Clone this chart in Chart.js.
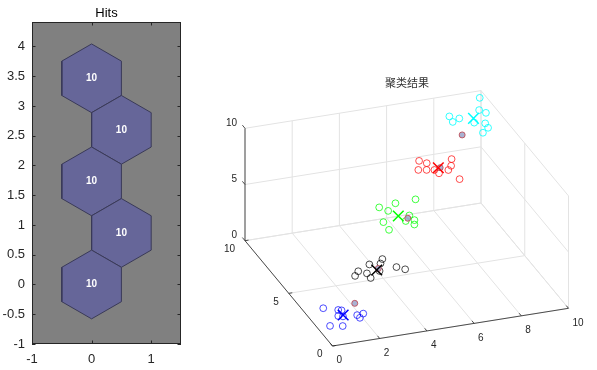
<!DOCTYPE html>
<html>
<head>
<meta charset="utf-8">
<script src="https://cdn.jsdelivr.net/npm/chart.js@4.4.1/dist/chart.umd.min.js"></script>
<style>
  html, body { margin: 0; padding: 0; background: #fff; }
  #wrap { position: relative; width: 597px; height: 370px; }
  canvas { position: absolute; top: 0; }
  #hitsChart { left: 0; }
  #clusterChart { left: 200px; }
</style>
</head>
<body>
<div id="wrap">
  <canvas id="hitsChart" width="200" height="370"></canvas>
  <canvas id="clusterChart" width="397" height="370"></canvas>
</div>
<script>
// Left panel: SOM hits (neuron centres and hit counts)
const hexX = [0, 0.5, 0, 0.5, 0];
const hexY = [0, 0.866, 1.732, 2.598, 3.464];
const hexHits = [10, 10, 10, 10, 10];
const hitsXTicks = [-1, 0, 1];
const hitsYTicks = [-1, -0.5, 0, 0.5, 1, 1.5, 2, 2.5, 3, 3.5, 4];

// Right panel: clustered samples (x, y, z per cluster)
const blueX = [0.29, 0.82, 0.94, 0.73, 0.27, 0.74, 1.45, 1.70, 1.51, 0.90];
const blueY = [1.84, 1.56, 1.50, 1.31, 1.01, 0.83, 1.09, 1.07, 0.94, 1.23];
const blueZ = [1.54, 1.47, 1.45, 1.20, 0.75, 0.75, 1.24, 1.31, 1.12, 1.18];
const blackX = [3.36, 3.22, 2.79, 2.27, 2.08, 2.56, 2.63, 3.76, 4.05, 3.07];
const blackY = [3.36, 3.20, 3.31, 3.18, 3.03, 2.97, 2.73, 2.83, 2.62, 2.90];
const blackZ = [3.46, 3.26, 3.22, 2.91, 2.70, 2.82, 2.61, 3.11, 3.01, 2.93];
const greenX = [4.14, 4.42, 4.81, 5.62, 5.14, 5.26, 5.19, 4.92, 4.07, 4.16];
const greenY = [5.83, 5.56, 5.78, 5.67, 5.08, 4.82, 4.64, 4.90, 5.16, 4.76];
const greenZ = [5.48, 5.33, 5.67, 5.85, 5.13, 4.92, 4.72, 4.88, 4.82, 4.48];
const redX = [6.45, 6.70, 6.28, 6.59, 6.88, 7.00, 7.69, 7.57, 7.40, 7.68];
const redY = [7.50, 7.30, 7.13, 7.02, 6.91, 6.71, 7.13, 6.86, 6.72, 6.19];
const redZ = [7.28, 7.18, 6.88, 6.88, 6.88, 6.73, 7.37, 7.07, 6.88, 6.47];
const cyanX = [9.79, 9.58, 9.79, 8.37, 8.41, 8.71, 9.60, 9.64, 9.37, 9.20];
const cyanY = [9.58, 9.08, 8.87, 9.22, 8.94, 9.00, 8.44, 8.22, 8.08, 8.62];
const cyanZ = [9.82, 9.27, 9.15, 8.98, 8.74, 8.89, 8.68, 8.48, 8.26, 8.71];

// cluster centres (X markers) and SOM weight vectors
const centreX = [0.93, 2.98, 4.72, 7.06, 9.24];
const centreY = [1.29, 2.98, 5.21, 6.95, 8.81];
const centreZ = [1.24, 2.97, 5.10, 6.98, 8.90];
const neuronX = [1.54, 3.06, 5.04, 7.13, 8.56];
const neuronY = [1.61, 3.02, 4.99, 6.93, 8.27];
const neuronZ = [1.77, 3.04, 5.00, 6.98, 8.16];

const axXTicks = [0, 2, 4, 6, 8, 10];
const axYTicks = [0, 5, 10];
const axZTicks = [0, 5, 10];

const clusterColors = ["rgba(0,0,255,0.7)", "rgba(0,0,0,0.7)", "rgba(0,255,0,0.75)", "rgba(255,0,0,0.7)", "rgba(0,255,255,0.8)"];
const centreColors = ["#0000ff", "#000000", "#00ff00", "#ff0000", "#00ffff"];
const AX = "#262626";
const SANS = '"Liberation Sans", Arial, sans-serif';

// ---------- left chart ----------
const hexR = 1 / Math.sqrt(3);
const hexDatasets = hexX.map((cx, i) => {
    const pts = [];
    for (let k = 0; k <= 6; k++) {
        const a = Math.PI / 2 + k * Math.PI / 3;
        pts.push({ x: cx + hexR * Math.cos(a), y: hexY[i] + hexR * Math.sin(a) });
    }
    return {
        data: pts,
        showLine: true,
        fill: "shape",
        backgroundColor: "#666699",
        borderColor: "#3a3a58",
        borderWidth: 1,
        pointRadius: 0,
        tension: 0
    };
});

const hitsPlugin = {
    id: "hitsDecor",
    beforeDatasetsDraw(chart) {
        const { ctx, chartArea: a } = chart;
        ctx.save();
        ctx.fillStyle = "#808080";
        ctx.fillRect(a.left, a.top, a.right - a.left, a.bottom - a.top);
        ctx.restore();
    },
    afterDatasetsDraw(chart) {
        const { ctx, chartArea: a, scales } = chart;
        ctx.save();
        // hit counts
        ctx.fillStyle = "#ffffff";
        ctx.font = "bold 10px " + SANS;
        ctx.textAlign = "center";
        ctx.textBaseline = "middle";
        hexHits.forEach((h, i) => {
            ctx.fillText(String(h), scales.x.getPixelForValue(hexX[i]), scales.y.getPixelForValue(hexY[i]));
        });
        // box and inner ticks
        ctx.strokeStyle = AX;
        ctx.lineWidth = 1;
        ctx.strokeRect(Math.round(a.left) + 0.5, Math.round(a.top) + 0.5, Math.round(a.right - a.left) - 1, Math.round(a.bottom - a.top) - 1);
        const tl = 3.5;
        ctx.beginPath();
        hitsXTicks.forEach(v => {
            const px = Math.round(scales.x.getPixelForValue(v)) + 0.5;
            ctx.moveTo(px, a.bottom); ctx.lineTo(px, a.bottom - tl);
            ctx.moveTo(px, a.top); ctx.lineTo(px, a.top + tl);
        });
        hitsYTicks.forEach(v => {
            const py = Math.round(scales.y.getPixelForValue(v)) + 0.5;
            ctx.moveTo(a.left, py); ctx.lineTo(a.left + tl, py);
            ctx.moveTo(a.right, py); ctx.lineTo(a.right - tl, py);
        });
        ctx.stroke();
        // title
        ctx.fillStyle = "#000";
        ctx.font = "13px " + SANS;
        ctx.textBaseline = "middle";
        ctx.fillText("Hits", (a.left + a.right) / 2, 13);
        ctx.restore();
    }
};

new Chart(document.getElementById("hitsChart"), {
    type: "scatter",
    data: { datasets: hexDatasets },
    options: {
        responsive: false,
        animation: false,
        events: [],
        layout: { padding: { top: 22, right: 19, left: 0, bottom: 0 } },
        plugins: { legend: { display: false }, tooltip: { enabled: false } },
        scales: {
            x: {
                type: "linear", min: -1, max: 1.5,
                afterBuildTicks: s => { s.ticks = hitsXTicks.map(v => ({ value: v })); },
                afterFit: s => { s.height = 26; },
                grid: { display: false, drawTicks: false },
                border: { display: false },
                ticks: { color: AX, font: { size: 13, family: SANS }, padding: 8, maxRotation: 0, autoSkip: false, callback: v => String(v) }
            },
            y: {
                type: "linear", min: -1, max: 4.41,
                afterBuildTicks: s => { s.ticks = hitsYTicks.map(v => ({ value: v })); },
                afterFit: s => { s.width = 32; },
                grid: { display: false, drawTicks: false },
                border: { display: false },
                ticks: { color: AX, font: { size: 13, family: SANS }, padding: 7, autoSkip: false, callback: v => String(v) }
            }
        }
    },
    plugins: [hitsPlugin]
});

// ---------- right chart: 3-D view projected onto the canvas ----------
// origin (0,0,0) sits at canvas pixel (ox, oy); axis vectors in pixels per unit
const view = { ox: 132.5, oy: 346, ex: [23.6, 3.77], ey: [-8.75, 10.53], ez: [0, 11.24] };
const PAD = 12, W3 = 397, H3 = 370;
function project(x, y, z) {
    return {
        x: view.ex[0] * x + view.ey[0] * y + view.ez[0] * z,
        y: view.ex[1] * x + view.ey[1] * y + view.ez[1] * z
    };
}
function segments(pairs) {
    const out = [];
    pairs.forEach(([p, q]) => {
        out.push(project(...p), project(...q), { x: NaN, y: NaN });
    });
    return out;
}

const xMax = axXTicks[axXTicks.length - 1], yMax = axYTicks[axYTicks.length - 1], zMax = axZTicks[axZTicks.length - 1];
const gridPairs = [];
axXTicks.forEach(x => {
    gridPairs.push([[x, 0, 0], [x, yMax, 0]]);
    gridPairs.push([[x, yMax, 0], [x, yMax, zMax]]);
});
axYTicks.forEach(y => {
    gridPairs.push([[0, y, 0], [xMax, y, 0]]);
    gridPairs.push([[xMax, y, 0], [xMax, y, zMax]]);
});
axZTicks.forEach(z => {
    gridPairs.push([[0, yMax, z], [xMax, yMax, z]]);
    gridPairs.push([[xMax, 0, z], [xMax, yMax, z]]);
});
const axisPairs = [
    [[0, 0, 0], [xMax, 0, 0]],
    [[0, 0, 0], [0, yMax, 0]],
    [[0, yMax, 0], [0, yMax, zMax]]
];
axXTicks.forEach(x => axisPairs.push([[x, 0, 0], [x, 0.25, 0]]));
axYTicks.forEach(y => axisPairs.push([[0, y, 0], [0.15, y, 0]]));
axZTicks.forEach(z => axisPairs.push([[0, yMax, z], [0, yMax + 0.3, z]]));

const clusterSets = [
    [blueX, blueY, blueZ], [blackX, blackY, blackZ], [greenX, greenY, greenZ],
    [redX, redY, redZ], [cyanX, cyanY, cyanZ]
];

const datasets3d = [
    { data: segments(gridPairs), showLine: true, borderColor: "#e3e3e3", borderWidth: 1, pointRadius: 0, spanGaps: false, order: 10 },
    { data: segments(axisPairs), showLine: true, borderColor: "rgba(38,38,38,0.8)", borderWidth: 1, pointRadius: 0, spanGaps: false, order: 9 }
];
clusterSets.forEach(([xs, ys, zs], c) => {
    datasets3d.push({
        data: xs.map((x, i) => project(x, ys[i], zs[i])),
        pointStyle: "circle", pointRadius: 3.4, borderWidth: 1,
        borderColor: clusterColors[c], backgroundColor: "rgba(0,0,0,0)", order: 3
    });
});
datasets3d.push({
    data: neuronX.map((x, i) => project(x, neuronY[i], neuronZ[i])),
    pointStyle: "circle", pointRadius: 3, borderWidth: 1,
    borderColor: "rgba(190,70,80,0.85)", backgroundColor: "rgba(160,170,205,0.9)", order: 2
});
datasets3d.push({
    data: centreX.map((x, i) => project(x, centreY[i], centreZ[i])),
    pointStyle: "crossRot", pointRadius: 7.5, borderWidth: 1.5,
    borderColor: centreColors, backgroundColor: centreColors, order: 1
});

const cluster3dPlugin = {
    id: "axisText3d",
    afterDatasetsDraw(chart) {
        const { ctx, scales } = chart;
        const pix = (x, y, z) => {
            const p = project(x, y, z);
            return [scales.x.getPixelForValue(p.x), scales.y.getPixelForValue(p.y)];
        };
        ctx.save();
        ctx.fillStyle = AX;
        ctx.font = "10px " + SANS;
        ctx.textBaseline = "middle";
        ctx.textAlign = "left";
        axXTicks.forEach(x => {
            const [px, py] = pix(x, 0, 0);
            ctx.fillText(String(x), px + 4, py + 14.5);
        });
        ctx.textAlign = "right";
        axYTicks.forEach(y => {
            const [px, py] = pix(0, y, 0);
            ctx.fillText(String(y), px - 10, py + 8.5);
        });
        axZTicks.forEach(z => {
            const [px, py] = pix(0, yMax, z);
            ctx.fillText(String(z), px - 8, py - 5.5);
        });
        ctx.textAlign = "center";
        ctx.fillStyle = "#333";
        ctx.font = '11px "Noto Sans CJK SC", sans-serif';
        ctx.fillText("聚类结果", 207, 83);
        ctx.restore();
    }
};

new Chart(document.getElementById("clusterChart"), {
    type: "scatter",
    data: { datasets: datasets3d },
    options: {
        responsive: false,
        animation: false,
        events: [],
        clip: false,
        layout: { padding: PAD },
        plugins: { legend: { display: false }, tooltip: { enabled: false } },
        scales: {
            x: { type: "linear", display: false, min: PAD - view.ox, max: W3 - PAD - view.ox },
            y: { type: "linear", display: false, min: view.oy - (H3 - PAD), max: view.oy - PAD }
        }
    },
    plugins: [cluster3dPlugin]
});
</script>
</body>
</html>
